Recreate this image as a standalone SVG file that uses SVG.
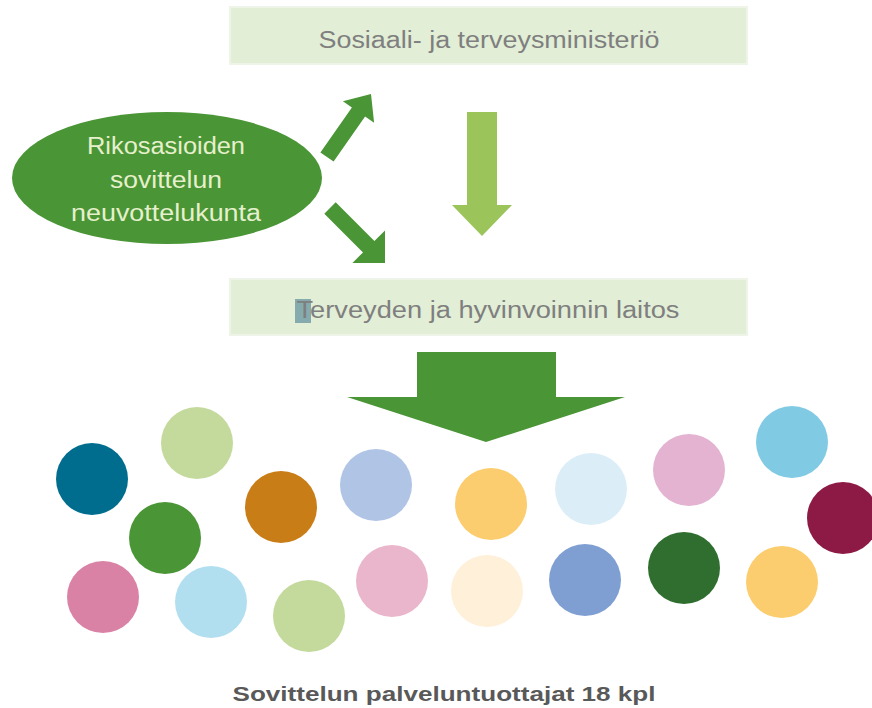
<svg xmlns="http://www.w3.org/2000/svg" width="872" height="708" viewBox="0 0 872 708">
<style>
.box{fill:#e2eed6;stroke:#eef5e8;stroke-width:2}
.bt{font-family:"Liberation Sans",Arial,sans-serif;font-size:23px;fill:#7f7f7f;text-anchor:middle}
.et{font-family:"Liberation Sans",Arial,sans-serif;font-size:23px;fill:#e6f0cc;text-anchor:middle}
.lab{font-family:"Liberation Sans",Arial,sans-serif;font-size:21px;font-weight:bold;fill:#595959;text-anchor:middle}
.dg{fill:#4a9535}
</style>
<rect width="872" height="708" fill="#ffffff"/>
<g id="node-stm">
<rect class="box" x="230" y="7" width="517" height="57"/>
<text class="bt" x="489" y="48" textLength="341" lengthAdjust="spacingAndGlyphs">Sosiaali- ja terveysministeriö</text>
</g>
<g id="node-thl">
<rect class="box" x="230" y="279" width="517" height="56"/>
<rect x="295" y="299" width="16" height="24" fill="#86abae"/>
<text class="bt" x="488" y="318" textLength="383" lengthAdjust="spacingAndGlyphs">Terveyden ja hyvinvoinnin laitos</text>
</g>
<g id="node-neuvottelukunta">
<ellipse class="dg" cx="167" cy="178" rx="155" ry="66"/>
<text class="et" x="166" y="154" textLength="158" lengthAdjust="spacingAndGlyphs">Rikosasioiden</text>
<text class="et" x="166" y="188" textLength="112" lengthAdjust="spacingAndGlyphs">sovittelun</text>
<text class="et" x="166" y="221" textLength="190" lengthAdjust="spacingAndGlyphs">neuvottelukunta</text>
</g>
<g id="connectors">
<polygon class="dg" points="320.4,152.4 351.9,107.4 342.9,101.2 371,94 374.1,122.8 365.1,116.6 333.6,161.6"/>
<polygon class="dg" points="335.7,202.3 374.4,241 385,230.4 385,263 352.4,263 363,252.4 324.3,213.7"/>
<polygon fill="#9bc45a" points="467,112 497,112 497,205 512,205 482,236 452,205 467,205"/>
<polygon class="dg" points="417,352 556,352 556,397 625,397 486,442 347,397 417,397"/>
</g>
<g id="node-providers">
<circle cx="92" cy="479" r="36" fill="#006d8f"/>
<circle cx="197" cy="443" r="36" fill="#c4da9c"/>
<circle cx="165" cy="538" r="36" fill="#4a9535"/>
<circle cx="281" cy="507" r="36" fill="#c97d17"/>
<circle cx="376" cy="485" r="36" fill="#b0c4e6"/>
<circle cx="491" cy="504" r="36" fill="#fccd6e"/>
<circle cx="591" cy="489" r="36" fill="#dbeef7"/>
<circle cx="689" cy="470" r="36" fill="#e3b3d1"/>
<circle cx="792" cy="442" r="36" fill="#80cae3"/>
<circle cx="843" cy="518" r="36" fill="#8c1a45"/>
<circle cx="103" cy="597" r="36" fill="#d982a6"/>
<circle cx="211" cy="602" r="36" fill="#b1dfef"/>
<circle cx="309" cy="616" r="36" fill="#c4da9c"/>
<circle cx="392" cy="581" r="36" fill="#e9b6cb"/>
<circle cx="487" cy="591" r="36" fill="#fff0d9"/>
<circle cx="585" cy="580" r="36" fill="#7f9fd3"/>
<circle cx="684" cy="568" r="36" fill="#2f6e2f"/>
<circle cx="782" cy="582" r="36" fill="#fccd6e"/>
<text class="lab" x="444" y="701" textLength="423" lengthAdjust="spacingAndGlyphs">Sovittelun palveluntuottajat 18 kpl</text>
</g>
</svg>
